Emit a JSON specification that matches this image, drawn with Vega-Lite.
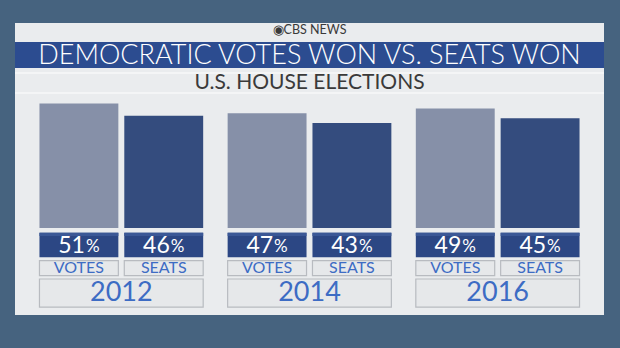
{
  "$schema": "https://vega.github.io/schema/vega-lite/v6.json",
  "autosize": {"type": "fit", "contains": "padding"},
  "width": 620,
  "height": 348,
  "padding": {"left": 14, "right": 15, "top": 23, "bottom": 33},
  "background": "#46637f",
  "config": {"view": {"fill": "#eaecee", "stroke": null}, "text": {"font": "Lato"}},
  "datasets": {
    "bars": [
      {"year": "2012", "type": "VOTES", "value": 51},
      {"year": "2012", "type": "SEATS", "value": 46},
      {"year": "2014", "type": "VOTES", "value": 47},
      {"year": "2014", "type": "SEATS", "value": 43},
      {"year": "2016", "type": "VOTES", "value": 49},
      {"year": "2016", "type": "SEATS", "value": 45}
    ],
    "years": [{"year": "2012"}, {"year": "2014"}, {"year": "2016"}],
    "titles": [{"brand": "◉CBS NEWS", "title": "DEMOCRATIC VOTES WON VS. SEATS WON", "subtitle": "U.S. HOUSE ELECTIONS"}]
  },
  "data": {"name": "bars"},
  "encoding": {
    "x": {"field": "year", "type": "nominal", "axis": null, "scale": {"paddingInner": 0.13, "paddingOuter": 0.13}},
    "y": {"type": "quantitative", "axis": null, "scale": {"domain": [-35.66, 84.0], "nice": false, "zero": false}}
  },
  "layer": [
    {
      "data": {"name": "titles"},
      "mark": {"type": "rule", "color": "#f7f8f9", "strokeWidth": 1.5},
      "encoding": {"x": null, "y": {"datum": 63.5}}
    },
    {
      "data": {"name": "titles"},
      "mark": {"type": "rule", "color": "#f7f8f9", "strokeWidth": 1.5},
      "encoding": {"x": null, "y": {"datum": 55.3}}
    },
    {
      "data": {"name": "titles"},
      "mark": {"type": "rect", "color": "#2c4c90"},
      "encoding": {"x": null, "y": {"datum": 76.2}, "y2": {"datum": 65.6}}
    },
    {
      "data": {"name": "titles"},
      "mark": {"type": "text", "color": "#3a3a3a", "fontSize": 12.5, "baseline": "middle"},
      "encoding": {"x": null, "y": {"datum": 81.2}, "text": {"field": "brand"}}
    },
    {
      "data": {"name": "titles"},
      "mark": {"type": "text", "color": "#ffffff", "fontSize": 27, "fontWeight": 300, "baseline": "middle"},
      "encoding": {"x": null, "y": {"datum": 70.5}, "text": {"field": "title"}}
    },
    {
      "data": {"name": "titles"},
      "mark": {"type": "text", "color": "#3a3a3a", "fontSize": 21, "baseline": "middle"},
      "encoding": {"x": null, "y": {"datum": 59.4}, "text": {"field": "subtitle"}}
    },
    {
      "mark": {"type": "bar"},
      "encoding": {
        "xOffset": {"field": "type", "type": "nominal", "scale": {"domain": ["VOTES", "SEATS"], "paddingInner": 0.07, "paddingOuter": 0}},
        "y": {"field": "value", "type": "quantitative"},
        "y2": {"datum": 0},
        "color": {"field": "type", "type": "nominal", "legend": null, "scale": {"domain": ["VOTES", "SEATS"], "range": ["#8690a8", "#344c7e"]}}
      }
    },
    {
      "mark": {"type": "bar", "color": "#2c4784"},
      "encoding": {
        "xOffset": {"field": "type", "type": "nominal", "scale": {"domain": ["VOTES", "SEATS"], "paddingInner": 0.07, "paddingOuter": 0}},
        "y": {"datum": -1.93},
        "y2": {"datum": -12.0}
      }
    },
    {
      "mark": {"type": "bar", "color": "#3b5896"},
      "encoding": {
        "xOffset": {"field": "type", "type": "nominal"},
        "y": {"datum": -1.93},
        "y2": {"datum": -3.3}
      }
    },
    {
      "mark": {"type": "text", "color": "#ffffff", "fontSize": 23, "align": "right", "baseline": "middle", "dx": 6},
      "encoding": {
        "xOffset": {"field": "type", "type": "nominal"},
        "y": {"datum": -7.2},
        "text": {"field": "value"}
      }
    },
    {
      "mark": {"type": "text", "color": "#ffffff", "fontSize": 17, "align": "left", "baseline": "middle", "dx": 7, "dy": 1},
      "encoding": {
        "xOffset": {"field": "type", "type": "nominal"},
        "y": {"datum": -7.2},
        "text": {"value": "%"}
      }
    },
    {
      "mark": {"type": "bar", "color": "#e6e8ea", "stroke": "#b8bbc0", "strokeWidth": 1.2},
      "encoding": {
        "xOffset": {"field": "type", "type": "nominal"},
        "y": {"datum": -13.4},
        "y2": {"datum": -19.55}
      }
    },
    {
      "mark": {"type": "text", "color": "#3d6cc4", "fontSize": 16, "baseline": "middle"},
      "encoding": {
        "xOffset": {"field": "type", "type": "nominal"},
        "y": {"datum": -16.5},
        "text": {"field": "type"}
      }
    },
    {
      "data": {"name": "years"},
      "mark": {"type": "bar", "color": "#e6e8ea", "stroke": "#b8bbc0", "strokeWidth": 1.2},
      "encoding": {
        "y": {"datum": -20.9},
        "y2": {"datum": -32.4}
      }
    },
    {
      "data": {"name": "years"},
      "mark": {"type": "text", "color": "#3d6cc4", "fontSize": 27, "baseline": "middle"},
      "encoding": {
        "y": {"datum": -26.7},
        "text": {"field": "year"}
      }
    }
  ]
}
